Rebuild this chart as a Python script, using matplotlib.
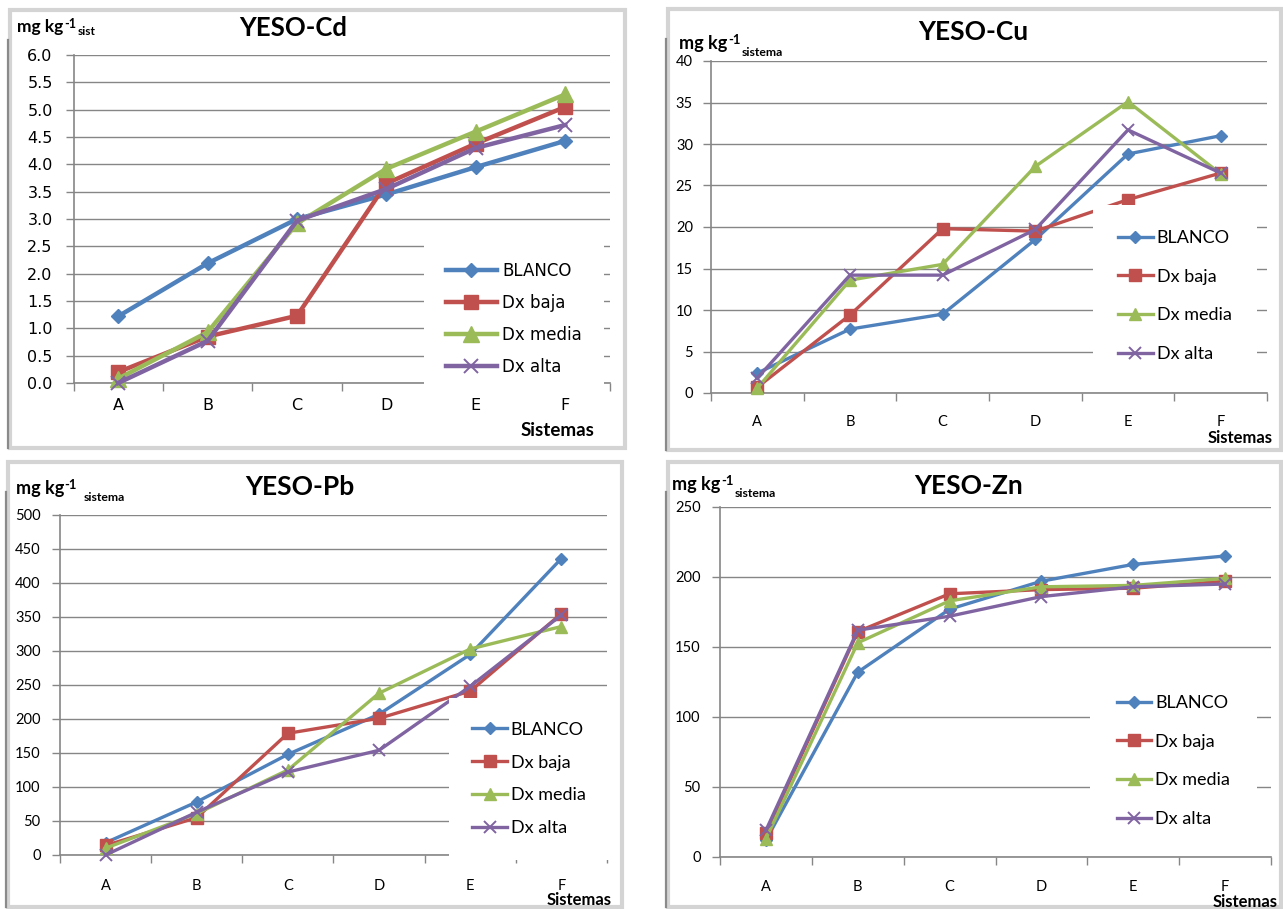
import matplotlib
matplotlib.use("Agg")
import matplotlib.pyplot as plt
from matplotlib.patches import Rectangle
from matplotlib.lines import Line2D
import numpy as np

plt.rcParams['font.family'] = ['Lato', 'DejaVu Sans']

# ---------------- data ----------------
sistemas = ['A', 'B', 'C', 'D', 'E', 'F']
series_names = ['BLANCO', 'Dx baja', 'Dx media', 'Dx alta']

cd_blanco = [1.22, 2.19, 3.00, 3.45, 3.95, 4.43]
cd_baja = [0.20, 0.85, 1.23, 3.65, 4.38, 5.05]
cd_media = [0.08, 0.93, 2.92, 3.92, 4.60, 5.28]
cd_alta = [0.00, 0.77, 2.97, 3.55, 4.30, 4.72]

cu_blanco = [2.4, 7.7, 9.5, 18.5, 28.8, 31.0]
cu_baja = [0.7, 9.4, 19.8, 19.5, 23.3, 26.5]
cu_media = [0.6, 13.6, 15.5, 27.3, 35.1, 26.4]
cu_alta = [1.8, 14.2, 14.2, 19.7, 31.7, 26.5]

pb_blanco = [18, 78, 148, 207, 295, 436]
pb_baja = [14, 55, 179, 201, 241, 355]
pb_media = [10, 61, 125, 238, 303, 336]
pb_alta = [0, 63, 122, 154, 248, 353]

zn_blanco = [12, 132, 177, 197, 209, 215]
zn_baja = [17, 161, 188, 191, 192, 197]
zn_media = [13, 153, 183, 193, 194, 199]
zn_alta = [19, 162, 172, 186, 193, 195]

W, H = 1283, 909
fig = plt.figure(figsize=(W / 100, H / 100), dpi=100)
fig.patch.set_facecolor('white')

colors = ['#4F81BD', '#C0504D', '#9BBB59', '#8064A2']
markers = ['D', 's', '^', 'x']
GRID = '#868686'


def fx(x):
    return x / W


def fy(y):
    return 1 - y / H


def panel_box(l, t, r, b):
    fig.add_artist(Rectangle((fx(l), fy(b)), fx(r) - fx(l), fy(t) - fy(b),
                             transform=fig.transFigure, facecolor='none',
                             edgecolor='#d4d4d4', linewidth=3, zorder=0))
    fig.add_artist(Line2D([fx(l - 2), fx(l - 2)], [fy(b), fy(t + 30)],
                          transform=fig.transFigure, color='#8a8a8a',
                          linewidth=1.6, zorder=0))


def unit_label(x, y, size, sub, gap, sub_drop):
    # "mg kg" + superscript "-1" + subscript text, placed one after the other
    t1 = fig.text(fx(x), fy(y), 'mg kg', ha='left', va='baseline',
                  fontsize=size, fontweight='bold', fontfamily='Lato')
    sup_rise = size * 0.42
    a2 = fig.add_artist(plt.Annotation('-1', xy=(1, 0), xycoords=t1,
                                       xytext=(0.5, sup_rise),
                                       textcoords='offset points',
                                       fontsize=size * 0.72, fontweight='bold',
                                       fontfamily='Lato', ha='left',
                                       va='baseline'))
    # a2 bbox bottom sits roughly sup_rise - 0.2*0.72*size above t1 baseline
    a2_bottom = sup_rise - 0.2 * 0.72 * size
    fig.add_artist(plt.Annotation(sub, xy=(1, 0), xycoords=a2,
                                  xytext=(gap, -a2_bottom - sub_drop),
                                  textcoords='offset points',
                                  fontsize=size * 0.68, fontweight='bold',
                                  fontfamily='Lato', ha='left', va='baseline'))


def make_panel(l, r, t, b, data, ymax, ystep, yfmt, title, title_xy,
               sub, sub_gap, sub_drop, ylab_xy, xlab_xy, leg_xy, leg_cfg,
               tick_font, tick_size, lw, msizes, xpad, ypad, title_size,
               lab_size, xlab_size):
    ax = fig.add_axes([fx(l), fy(b), fx(r) - fx(l), fy(t) - fy(b)])
    x = np.arange(len(sistemas))
    for vals, name, c, m, ms in zip(data, series_names, colors, markers, msizes):
        mew = 1.4 if m == 'x' else 1
        ax.plot(x, vals, color=c, lw=lw, marker=m, ms=ms, mfc=c, mec=c,
                mew=mew, label=name, clip_on=False, zorder=3)
    ax.set_xlim(-0.5, len(sistemas) - 0.5)
    ax.set_ylim(0, ymax)
    yt = np.arange(0, ymax + ystep / 2, ystep)
    ax.set_yticks(yt)
    ax.set_yticklabels([yfmt.format(v) for v in yt], fontfamily=tick_font,
                       fontsize=tick_size)
    ax.set_xticks(np.arange(-0.5, len(sistemas)), minor=False)
    ax.set_xticklabels([])
    ax.set_xticks(x, minor=True)
    ax.set_xticklabels(sistemas, minor=True, fontfamily=tick_font,
                       fontsize=tick_size)
    ax.tick_params(axis='x', which='major', direction='out', length=6,
                   color=GRID, width=1)
    ax.tick_params(axis='x', which='minor', length=0, pad=xpad)
    ax.tick_params(axis='y', direction='out', length=6, color=GRID, width=1,
                   pad=ypad)
    ax.grid(axis='y', color=GRID, lw=1.0, zorder=0)
    ax.set_axisbelow(True)
    for s in ['top', 'right']:
        ax.spines[s].set_visible(False)
    for s in ['left', 'bottom']:
        ax.spines[s].set_color(GRID)
        ax.spines[s].set_linewidth(1.2)
    ax.set_facecolor('none')

    fig.text(fx(title_xy[0]), fy(title_xy[1]), title, ha='center', va='center',
             fontsize=title_size, fontweight='bold', fontfamily='Lato')
    unit_label(ylab_xy[0], ylab_xy[1], lab_size, sub, sub_gap, sub_drop)
    fig.text(fx(xlab_xy[0]), fy(xlab_xy[1]), 'Sistemas', ha='center',
             va='center', fontsize=xlab_size, fontweight='bold',
             fontfamily='Lato')

    leg = ax.legend(loc='center left',
                    bbox_to_anchor=(fx(leg_xy[0]), fy(leg_xy[1])),
                    bbox_transform=fig.transFigure, frameon=True,
                    facecolor='white', edgecolor='none', framealpha=1,
                    fancybox=False, borderaxespad=0,
                    prop={'family': leg_cfg['font'], 'size': leg_cfg['size']},
                    handlelength=leg_cfg['hl'], handletextpad=leg_cfg['htp'],
                    labelspacing=leg_cfg['ls'], borderpad=leg_cfg['bp'])
    leg.set_zorder(5)
    return ax


panel_box(10, 10, 625, 448)
panel_box(668, 9, 1281, 450)
panel_box(8, 462, 622, 907)
panel_box(668, 462, 1281, 907)

# YESO-Cd
make_panel(73.5, 610, 55, 383, [cd_blanco, cd_baja, cd_media, cd_alta],
           6.0, 0.5, '{:.1f}', 'YESO-Cd', (293, 28),
           'sist', 1, 0.5, (17, 32), (557, 430),
           (424, 319),
           {'font': 'DejaVu Sans', 'size': 12, 'hl': 3.1, 'htp': 0.3,
            'ls': 0.84, 'bp': 1.3},
           'DejaVu Sans', 11.5, 3.2, [7.5, 10.5, 11, 10], 11, 9, 18.5, 12.5,
           13.5)

# YESO-Cu
make_panel(711, 1267, 61, 393, [cu_blanco, cu_baja, cu_media, cu_alta],
           40, 5, '{:.0f}', 'YESO-Cu', (973, 32),
           'sistema', 1, 3.5, (679, 49), (1240, 438),
           (1093, 296),
           {'font': 'Lato', 'size': 13, 'hl': 1.9, 'htp': 0.22,
            'ls': 1.25, 'bp': 1.4},
           'Lato', 10.5, 2.4, [6.5, 8.5, 9, 9], 16, 7, 19, 13, 12)

# YESO-Pb
make_panel(60, 607, 515, 855, [pb_blanco, pb_baja, pb_media, pb_alta],
           500, 50, '{:.0f}', 'YESO-Pb', (300, 487),
           'sistema', 5, 3.5, (15.5, 494), (579.5, 900),
           (449, 779),
           {'font': 'Lato', 'size': 13, 'hl': 1.9, 'htp': 0.22,
            'ls': 0.93, 'bp': 1.3},
           'Lato', 10.5, 2.4, [6.5, 8.5, 9, 9], 17, 8, 19, 13, 12)

# YESO-Zn
make_panel(720, 1271, 507, 857, [zn_blanco, zn_baja, zn_media, zn_alta],
           250, 50, '{:.0f}', 'YESO-Zn', (969, 486),
           'sistema', 1, 3.5, (672, 490), (1245, 902),
           (1090, 761),
           {'font': 'Lato', 'size': 13, 'hl': 1.9, 'htp': 0.22,
            'ls': 1.25, 'bp': 1.5},
           'Lato', 10.5, 2.4, [6.5, 8.5, 9, 9], 16.5, 8, 19, 13, 12)

fig.savefig('out.png', dpi=100, facecolor='white')
